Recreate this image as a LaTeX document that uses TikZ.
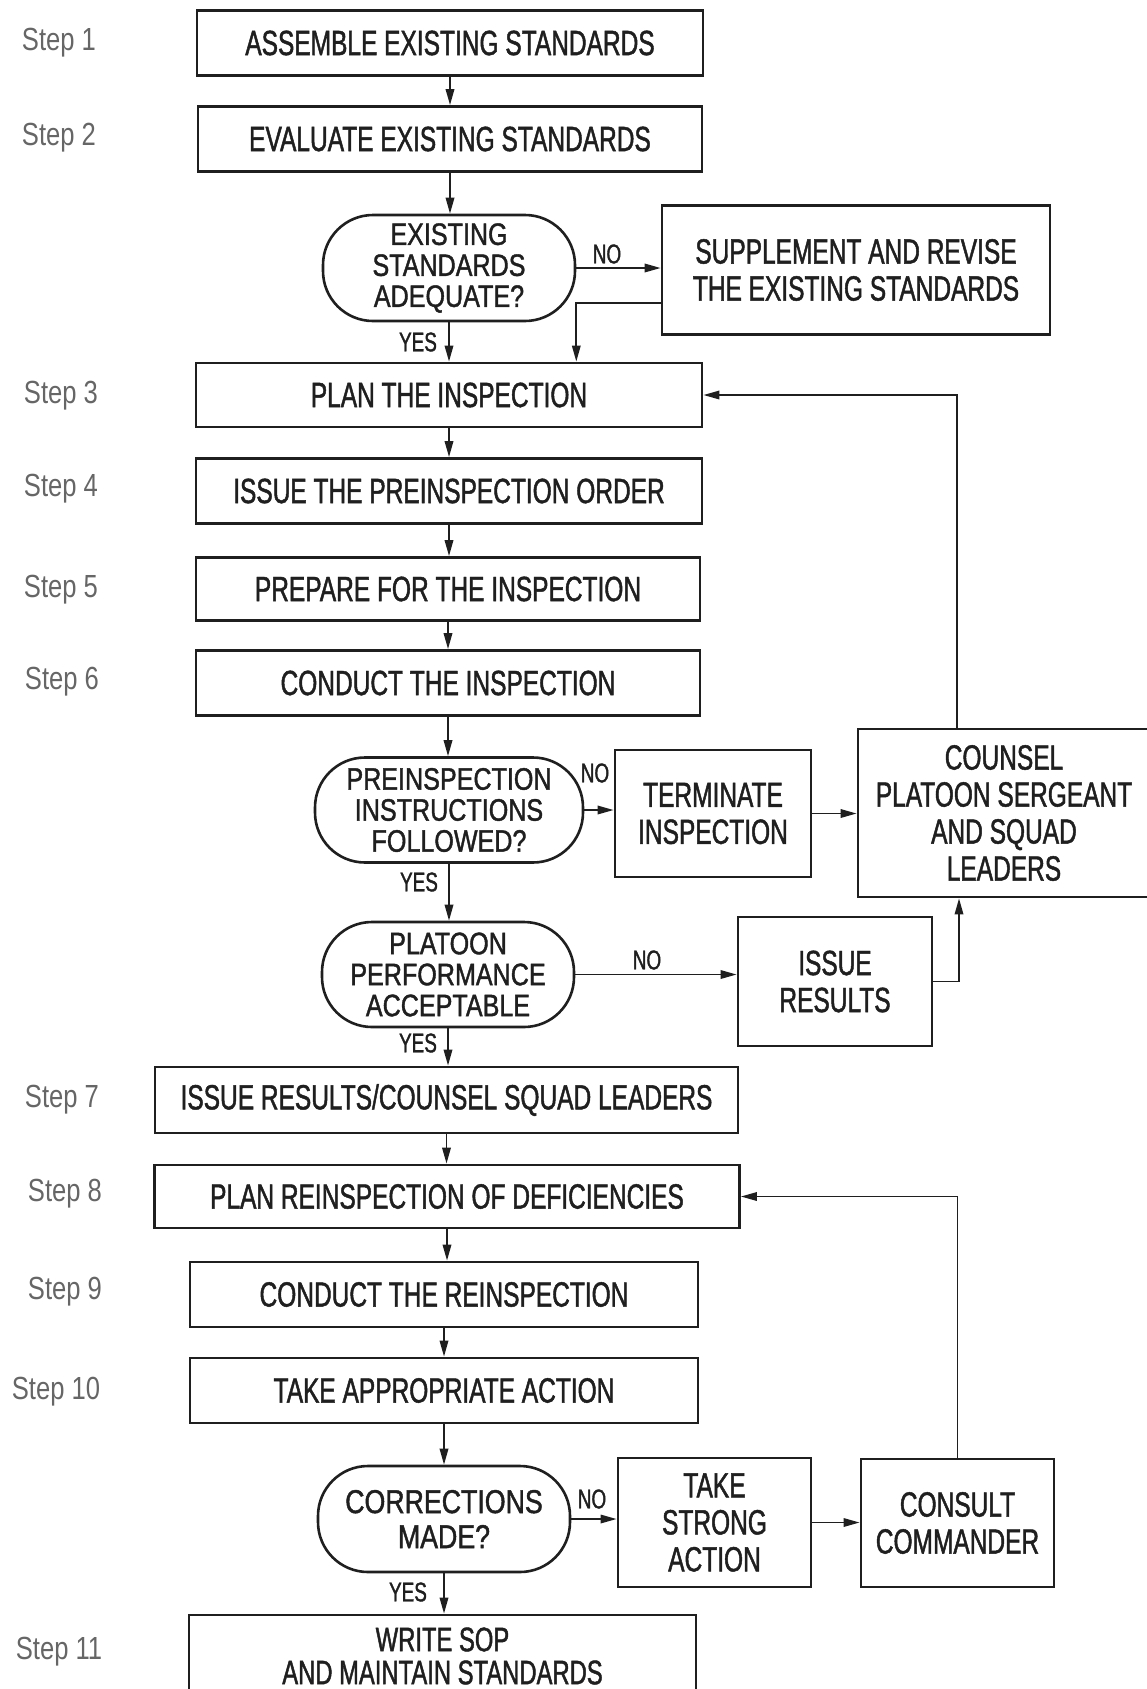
\documentclass[tikz,border=0pt]{standalone}
\usepackage{fontspec}
\setmainfont{Liberation Sans}[FakeStretch=0.70,FakeBold=1.3]
\newfontfamily\stepfont{Liberation Sans}[FakeStretch=0.80]
\newfontfamily\decfont{Liberation Sans}[FakeStretch=0.81,FakeBold=1.3]
\usetikzlibrary{arrows.meta}
\begin{document}
\begin{tikzpicture}[x=1pt,y=-1pt,
  txt/.style={font=\fontsize{35}{37}\selectfont, align=center, text=black!88},
  box/.style={draw=black!88, line width=2.8pt, txt, inner sep=0pt},
  dec/.style={draw=black!88, line width=2.6pt, txt, font=\decfont\fontsize{31}{31}\selectfont, rounded corners=50pt, inner sep=0pt},
  steplab/.style={font=\stepfont\fontsize{32}{30}\selectfont, text=black!60},
  lab/.style={font=\fontsize{27}{27}\selectfont, text=black!88, inner sep=0pt},
  arr/.style={draw=black!88, line width=1.8pt, -{Triangle[length=16pt,width=8.5pt]}},
]
\useasboundingbox (0,0) rectangle (1146,1689);

% step labels
\node[steplab] (s1) at (59,43) {Step 1};
\node[steplab] (s2) at (59,138) {Step 2};
\node[steplab] (s3) at (61,396) {Step 3};
\node[steplab] (s4) at (61,489) {Step 4};
\node[steplab] (s5) at (61,590) {Step 5};
\node[steplab] (s6) at (62,682) {Step 6};
\node[steplab] (s7) at (62,1100) {Step 7};
\node[steplab] (s8) at (65,1194) {Step 8};
\node[steplab] (s9) at (65,1292) {Step 9};
\node[steplab] (s10) at (56,1392) {Step 10};
\node[steplab] (s11) at (59,1652) {Step 11};

% main column
\node[box, minimum width=506pt, minimum height=65pt] (b1) at (450,43) {ASSEMBLE EXISTING STANDARDS};
\node[box, minimum width=504pt, minimum height=65pt] (b2) at (450,139) {EVALUATE EXISTING STANDARDS};
\node[dec, minimum width=252pt, minimum height=106pt] (d1) at (449,268) {EXISTING\\STANDARDS\\ADEQUATE?};
\node[box, minimum width=388pt, minimum height=129pt] (supp) at (856,270) {SUPPLEMENT AND REVISE\\THE EXISTING STANDARDS};
\node[box, minimum width=506pt, minimum height=64pt] (b3) at (449,395) {PLAN THE INSPECTION};
\node[box, minimum width=506pt, minimum height=65pt] (b4) at (449,491) {ISSUE THE PREINSPECTION ORDER};
\node[box, minimum width=504pt, minimum height=63pt] (b5) at (448,589) {PREPARE FOR THE INSPECTION};
\node[box, minimum width=504pt, minimum height=65pt] (b6) at (448,683) {CONDUCT THE INSPECTION};
\node[dec, minimum width=268pt, minimum height=105pt] (d2) at (449,810) {PREINSPECTION\\INSTRUCTIONS\\FOLLOWED?};
\node[box, minimum width=196pt, minimum height=127pt] (term) at (713,813.5) {TERMINATE\\INSPECTION};
\node[box, minimum width=292pt, minimum height=168pt] (couns) at (1004,813) {COUNSEL\\PLATOON SERGEANT\\AND SQUAD\\LEADERS};
\node[dec, minimum width=252pt, minimum height=105pt] (d3) at (448,974.5) {PLATOON\\PERFORMANCE\\ACCEPTABLE};
\node[box, minimum width=194pt, minimum height=129pt] (ir) at (835,981.5) {ISSUE\\RESULTS};
\node[box, minimum width=583pt, minimum height=66pt] (b7) at (446.5,1100) {ISSUE RESULTS/COUNSEL SQUAD LEADERS};
\node[box, minimum width=585pt, minimum height=63pt] (b8) at (447,1196.5) {PLAN REINSPECTION OF DEFICIENCIES};
\node[box, minimum width=508pt, minimum height=65pt] (b9) at (444,1294.5) {CONDUCT THE REINSPECTION};
\node[box, minimum width=508pt, minimum height=65pt] (b10) at (444,1390.5) {TAKE APPROPRIATE ACTION};
\node[dec, minimum width=252pt, minimum height=106pt, font=\decfont\fontsize{33}{35}\selectfont] (d4) at (444,1519) {CORRECTIONS\\MADE?};
\node[box, minimum width=193pt, minimum height=129pt] (tsa) at (714.5,1522.5) {TAKE\\STRONG\\ACTION};
\node[box, minimum width=193pt, minimum height=128pt] (cons) at (957.5,1523) {CONSULT\\COMMANDER};
\node[box, minimum width=507pt, minimum height=82pt, font=\fontsize{34}{33}\selectfont] (b11) at (442.5,1656) {WRITE SOP\\AND MAINTAIN STANDARDS};

% labels
\node[lab] (no1) at (607,254) {NO};
\node[lab] (yes1) at (418,342) {YES};
\node[lab] (no2) at (595,773) {NO};
\node[lab] (yes2) at (419,882) {YES};
\node[lab] (no3) at (647,960) {NO};
\node[lab] (yes3) at (418,1043) {YES};
\node[lab] (no4) at (592,1499) {NO};
\node[lab] (yes4) at (408,1592) {YES};

% connectors
\draw[arr] (b1.south) -- (b1.south |- b2.north);
\draw[arr] (b2.south) -- (b2.south |- d1.north);
\draw[arr] (d1.east) -- (d1.east -| supp.west);
\draw[arr] (d1.south) -- (d1.south |- b3.north);
\draw[arr] ([yshift=-33pt]supp.west) -| (d1.east |- b3.north);
\draw[arr] (b3.south) -- (b3.south |- b4.north);
\draw[arr] (b4.south) -- (b4.south |- b5.north);
\draw[arr] (b5.south) -- (b5.south |- b6.north);
\draw[arr] (b6.south) -- (b6.south |- d2.north);
\draw[arr] (d2.east) -- (d2.east -| term.west);
\draw[arr] (term.east) -- (term.east -| couns.west);
\draw[arr] ([xshift=-47pt]couns.north) |- (b3.east);
\draw[arr] (d2.south) -- (d2.south |- d3.north);
\draw[arr] (d3.east) -- (d3.east -| ir.west);
\draw[arr] (ir.east) -| ([xshift=-45pt]couns.south);
\draw[arr] (d3.south) -- (d3.south |- b7.north);
\draw[arr] (b7.south) -- (b7.south |- b8.north);
\draw[arr] (b8.south) -- (b8.south |- b9.north);
\draw[arr] (b9.south) -- (b9.south |- b10.north);
\draw[arr] (b10.south) -- (b10.south |- d4.north);
\draw[arr] (d4.east) -- (d4.east -| tsa.west);
\draw[arr] (tsa.east) -- (tsa.east -| cons.west);
\draw[arr] (cons.north) |- (b8.east);
\draw[arr] (d4.south) -- (d4.south |- b11.north);
\end{tikzpicture}
\end{document}
